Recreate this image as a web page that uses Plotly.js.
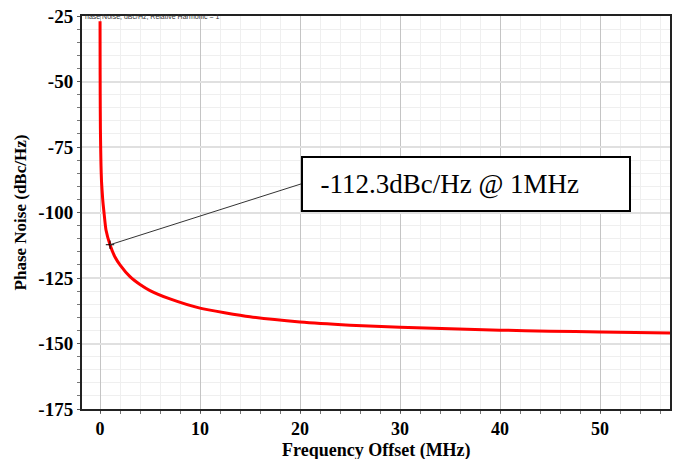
<!DOCTYPE html>
<html>
<head>
<meta charset="utf-8">
<script src="https://cdn.plot.ly/plotly-3.0.1.min.js"></script>
<style>html,body{margin:0;padding:0;background:#fff;}#chart{width:679px;height:459px;}</style>
</head>
<body>
<div id="chart"></div>
<script>
// Frequency offset (MHz)
const freqOffset = [0.005, 0.01, 0.02, 0.04, 0.07, 0.1, 0.15, 0.27, 0.4, 0.6, 1, 1.5, 2, 3, 4, 5, 7, 10, 15, 20, 25, 30, 35, 40, 45, 50, 57];
// Phase noise (dBc/Hz)
const phaseNoise = [-27, -40, -55, -68, -76, -82, -88, -95, -100, -106.7, -112.3, -117, -120, -124.5, -127.5, -129.8, -133, -136.5, -139.8, -141.8, -143, -143.8, -144.4, -144.9, -145.3, -145.6, -146];
const xTicks = [0, 10, 20, 30, 40, 50];
const yTicks = [-175, -150, -125, -100, -75, -50, -25];
const markerPoint = {x: 1, y: -112.3};
const labelText = "-112.3dBc/Hz @ 1MHz";
const smallTitle = "hase Noise, dBc/Hz, Relative Harmonic = 1";
const xTitle = "Frequency Offset (MHz)";
const yTitle = "Phase Noise (dBc/Hz)";

const serif = "'Liberation Serif', 'Times New Roman', serif";
const boldFont = {family: serif, size: 19, color: "#000", weight: "bold"};

const trace = {
  x: freqOffset, y: phaseNoise, type: "scatter", mode: "lines",
  line: {color: "#ff0000", width: 3, shape: "spline", smoothing: 0.5},
  hoverinfo: "skip"
};
const pt = {
  x: [markerPoint.x], y: [markerPoint.y], type: "scatter", mode: "markers",
  marker: {symbol: "cross-thin", size: 6, line: {color: "#000", width: 1}, color: "#000"},
  hoverinfo: "skip"
};

const layout = {
  width: 679, height: 459,
  margin: {l: 82, r: 9, t: 16, b: 50},
  paper_bgcolor: "#fff", plot_bgcolor: "#fff",
  showlegend: false,
  font: {family: serif},
  xaxis: {
    range: [-1.8, 57], tickvals: xTicks, ticktext: xTicks.map(String),
    tickfont: {family: serif, size: 18, color: "#000", weight: "bold"},
    ticks: "outside", ticklen: 2, tickcolor: "#555",
    showline: true, mirror: true, linecolor: "#222", linewidth: 2,
    showgrid: true, gridcolor: "#c4c4c4", gridwidth: 1, zeroline: false,
    minor: {dtick: 2, showgrid: true, gridcolor: "#efefef", gridwidth: 1, ticks: "outside", ticklen: 3, tickcolor: "#777"}
  },
  yaxis: {
    range: [-175, -25], tickvals: yTicks, ticktext: yTicks.map(String),
    tickfont: boldFont, ticks: "outside", ticklen: 3, tickcolor: "#555",
    showline: true, mirror: true, linecolor: "#222", linewidth: 2,
    showgrid: true, gridcolor: "#e0e0e0", gridwidth: 2, zeroline: false,
    minor: {dtick: 5, showgrid: true, gridcolor: "#efefef", gridwidth: 1, ticks: "outside", ticklen: 3, tickcolor: "#777"},
    title: {text: yTitle, font: {family: serif, size: 17, color: "#000", weight: "bold"}, standoff: 7}
  },
  shapes: [{
    type: "line", xref: "x", yref: "y",
    x0: markerPoint.x, y0: markerPoint.y, x1: 20.1, y1: -89.1,
    line: {color: "#333", width: 1}
  }],
  annotations: [{
    xref: "x", yref: "y", x: 20.1, y: -89.1, xanchor: "left", yanchor: "middle",
    text: "&nbsp;&nbsp;" + labelText, showarrow: false, align: "left",
    font: {family: serif, size: 27, color: "#000"},
    bgcolor: "#fff", bordercolor: "#000", borderwidth: 2, borderpad: 4,
    width: 318, height: 44
  }, {
    xref: "paper", yref: "paper", x: 0.002, y: 1, xanchor: "left", yanchor: "middle",
    text: smallTitle, showarrow: false,
    font: {family: "'Liberation Sans', Arial, sans-serif", size: 7, color: "#333"}
  }, {
    xref: "paper", yref: "paper", x: 0.5, y: 0, xanchor: "center", yanchor: "middle",
    yshift: -41, text: xTitle, showarrow: false,
    font: {family: serif, size: 18, color: "#000", weight: "bold"}
  }]
};

Plotly.newPlot("chart", [trace, pt], layout, {displayModeBar: false, staticPlot: true});
</script>
</body>
</html>
